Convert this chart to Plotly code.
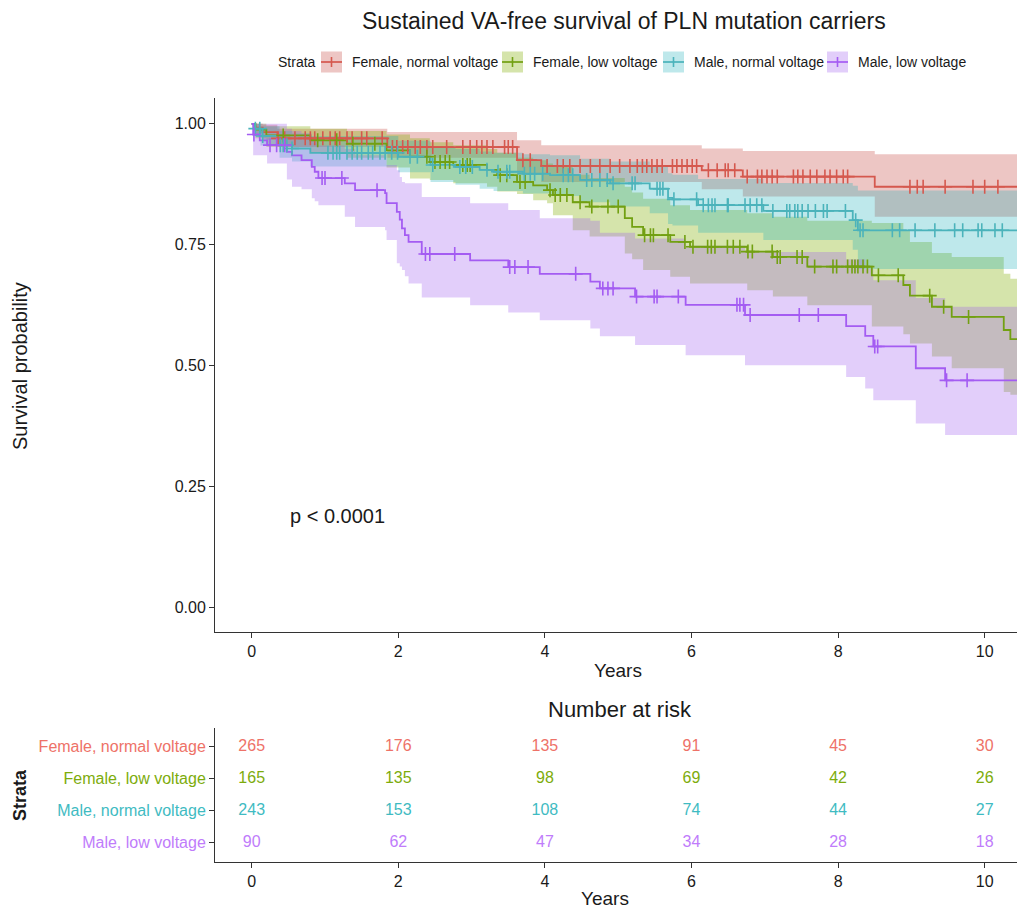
import numpy as np
import plotly.graph_objects as go

# ---------------- data ----------------
groups = ["Female, normal voltage", "Female, low voltage",
          "Male, normal voltage", "Male, low voltage"]

follow_up_end = 10.6

# Female, normal voltage
fnv_time = [0, 0.05, 0.15, 0.35, 1.85, 3.62, 3.95, 6.14, 6.70, 8.50]
fnv_surv = [1.0, 0.992, 0.983, 0.970, 0.952, 0.925, 0.913, 0.904, 0.891, 0.870]
fnv_lower = [1.0, 0.980, 0.967, 0.952, 0.930, 0.895, 0.880, 0.865, 0.850, 0.808]
fnv_upper = [1.0, 1.0, 0.998, 0.990, 0.983, 0.966, 0.956, 0.949, 0.944, 0.937]
fnv_censor = [0.36, 0.45, 0.59, 0.73, 0.80, 0.86, 0.97, 1.07, 1.14, 1.20, 1.30, 1.37, 1.50,
              1.57, 1.78, 1.92, 1.98, 2.06, 2.13, 2.23, 2.30, 2.39, 2.47, 2.66, 2.88, 2.98,
              3.07, 3.14, 3.21, 3.29, 3.45, 3.50, 3.56, 3.70, 3.80, 4.03, 4.17, 4.25, 4.34,
              4.48, 4.62, 4.75, 4.89, 5.02, 5.16, 5.26, 5.33, 5.39, 5.46, 5.53, 5.60, 5.74,
              5.80, 5.87, 5.94, 6.01, 6.07, 6.23, 6.35, 6.46, 6.50, 6.59, 6.76, 6.90, 6.96,
              7.03, 7.10, 7.17, 7.39, 7.45, 7.52, 7.62, 7.71, 7.82, 7.89, 7.98, 8.07, 8.13,
              8.98, 9.08, 9.16, 9.46, 9.84, 10.00, 10.18]

# Female, low voltage
flv_time = [0, 0.05, 0.2, 0.8, 1.3, 1.84, 2.16, 2.43, 2.75, 3.21, 3.35, 3.62, 3.84, 4.03,
            4.11, 4.38, 4.61, 5.09, 5.19, 5.34, 5.71, 5.98, 6.76, 7.11, 7.58, 8.46, 8.89,
            8.98, 9.28, 9.55, 10.26, 10.35]
flv_surv = [1.0, 0.988, 0.976, 0.966, 0.959, 0.945, 0.932, 0.921, 0.915, 0.905, 0.894,
            0.880, 0.873, 0.863, 0.853, 0.838, 0.829, 0.805, 0.787, 0.770, 0.756, 0.746,
            0.736, 0.725, 0.705, 0.687, 0.667, 0.645, 0.622, 0.601, 0.574, 0.555]
flv_lower = [1.0, 0.970, 0.952, 0.940, 0.930, 0.910, 0.887, 0.884, 0.877, 0.870, 0.860,
             0.855, 0.842, 0.836, 0.811, 0.780, 0.767, 0.732, 0.720, 0.698, 0.684, 0.670,
             0.656, 0.643, 0.625, 0.581, 0.565, 0.546, 0.519, 0.495, 0.446, 0.440]
flv_upper = [1.0, 1.0, 0.995, 0.990, 0.985, 0.978, 0.970, 0.962, 0.956, 0.948, 0.940,
             0.930, 0.925, 0.918, 0.912, 0.895, 0.888, 0.870, 0.858, 0.845, 0.832, 0.822,
             0.815, 0.808, 0.800, 0.795, 0.780, 0.756, 0.733, 0.725, 0.690, 0.680]
flv_censor = [0.43, 0.90, 1.16, 1.38, 1.68, 2.39, 2.50, 2.57, 2.64, 2.70, 2.88, 2.94, 2.98,
              3.39, 3.48, 3.66, 3.73, 4.07, 4.14, 4.21, 4.30, 4.48, 4.64, 4.86, 5.00, 5.36,
              5.44, 5.48, 5.68, 5.91, 6.02, 6.22, 6.27, 6.32, 6.49, 6.57, 6.66, 6.77, 6.83,
              7.10, 7.17, 7.21, 7.44, 7.51, 7.68, 7.93, 7.98, 8.13, 8.19, 8.23, 8.27, 8.34,
              8.40, 8.55, 8.82, 9.25, 9.44, 9.78]

# Male, normal voltage
mnv_time = [0, 0.03, 0.12, 0.38, 0.55, 0.80, 2.00, 2.44, 2.78, 3.11, 3.30, 3.70, 4.07,
            4.48, 4.89, 5.43, 5.68, 5.74, 6.09, 6.98, 8.20, 8.27]
mnv_surv = [1.0, 0.990, 0.975, 0.956, 0.949, 0.940, 0.932, 0.915, 0.911, 0.905, 0.901,
            0.897, 0.894, 0.884, 0.877, 0.866, 0.847, 0.844, 0.832, 0.820, 0.801, 0.780]
mnv_lower = [1.0, 0.975, 0.955, 0.930, 0.922, 0.912, 0.900, 0.880, 0.874, 0.866, 0.861,
             0.856, 0.851, 0.838, 0.829, 0.815, 0.793, 0.790, 0.775, 0.760, 0.740, 0.700]
mnv_upper = [1.0, 1.0, 0.995, 0.985, 0.980, 0.975, 0.965, 0.952, 0.948, 0.943, 0.940,
             0.937, 0.935, 0.928, 0.922, 0.913, 0.898, 0.895, 0.886, 0.878, 0.872, 0.862]
mnv_censor = [0.05, 0.11, 0.15, 0.39, 0.43, 0.48, 0.55, 1.04, 1.11, 1.16, 1.20, 1.30, 1.37,
              1.44, 1.50, 1.59, 1.65, 1.75, 1.82, 1.91, 1.99, 2.16, 2.26, 2.47, 2.84, 2.92,
              3.01, 3.21, 3.36, 3.48, 3.52, 3.72, 3.80, 3.86, 3.97, 4.25, 4.32, 4.38, 4.57,
              4.64, 4.75, 4.85, 4.93, 5.19, 5.23, 5.53, 5.57, 5.61, 5.76, 6.07, 6.16, 6.23,
              6.28, 6.32, 6.49, 6.50, 6.73, 6.80, 6.89, 6.96, 7.11, 7.30, 7.34, 7.41, 7.45,
              7.51, 7.59, 7.69, 7.80, 7.85, 8.10, 8.24, 8.30, 8.34, 8.74, 8.84, 9.05, 9.32,
              9.59, 9.70, 9.91, 9.96, 10.14, 10.24]

# Male, low voltage
mlv_time = [0, 0.02, 0.11, 0.21, 0.48, 0.55, 0.68, 0.82, 0.86, 0.91, 1.27, 1.41, 1.82,
            1.84, 1.98, 2.02, 2.05, 2.09, 2.14, 2.32, 2.98, 3.50, 3.93, 4.62, 4.75, 5.23,
            5.92, 6.73, 8.11, 8.37, 8.48, 9.06, 9.46]
mlv_surv = [1.0, 0.978, 0.966, 0.956, 0.942, 0.935, 0.925, 0.911, 0.901, 0.888, 0.877,
            0.863, 0.857, 0.836, 0.818, 0.802, 0.784, 0.770, 0.756, 0.731, 0.718, 0.704,
            0.690, 0.674, 0.660, 0.643, 0.626, 0.605, 0.582, 0.562, 0.540, 0.495, 0.470]
mlv_lower = [1.0, 0.935, 0.935, 0.918, 0.885, 0.870, 0.865, 0.846, 0.840, 0.832, 0.808,
             0.787, 0.780, 0.760, 0.712, 0.705, 0.698, 0.685, 0.670, 0.641, 0.625, 0.610,
             0.594, 0.577, 0.561, 0.543, 0.522, 0.501, 0.477, 0.453, 0.429, 0.381, 0.357]
mlv_upper = [1.0, 1.0, 1.0, 1.0, 0.990, 0.985, 0.980, 0.968, 0.962, 0.955, 0.948, 0.935,
             0.930, 0.915, 0.904, 0.890, 0.880, 0.877, 0.877, 0.849, 0.836, 0.822, 0.805,
             0.800, 0.775, 0.763, 0.748, 0.735, 0.720, 0.700, 0.677, 0.640, 0.622]
mlv_censor = [0.03, 0.25, 0.34, 0.45, 0.96, 1.00, 1.23, 1.71, 2.37, 2.43, 2.77, 3.52, 3.59,
              3.77, 4.42, 4.79, 4.86, 4.93, 5.25, 5.49, 5.53, 5.82, 6.62, 6.66, 6.71, 6.80,
              7.47, 7.73, 8.50, 8.54, 9.48, 9.76]

# Number at risk table
risk_times = [0, 2, 4, 6, 8, 10]
fnv_risk = [265, 176, 135, 91, 45, 30]
flv_risk = [165, 135, 98, 69, 42, 26]
mnv_risk = [243, 153, 108, 74, 44, 27]
mlv_risk = [90, 62, 47, 34, 28, 18]

p_value_text = "p < 0.0001"

# ---------------- styles ----------------
line_colors = ["#D5584E", "#72A012", "#4BB3BB", "#A45CF2"]
text_colors = ["#EE7268", "#7DAC0C", "#3FBBC2", "#C07CFB"]
band_colors = ["rgba(200,78,72,0.32)", "rgba(128,172,0,0.33)",
               "rgba(20,172,182,0.28)", "rgba(158,92,240,0.30)"]
FONT = "Liberation Sans, Arial, sans-serif"
AXIS_COL = "#333333"

series = [
    (fnv_time, fnv_surv, fnv_lower, fnv_upper, fnv_censor, fnv_risk),
    (flv_time, flv_surv, flv_lower, flv_upper, flv_censor, flv_risk),
    (mnv_time, mnv_surv, mnv_lower, mnv_upper, mnv_censor, mnv_risk),
    (mlv_time, mlv_surv, mlv_lower, mlv_upper, mlv_censor, mlv_risk),
]

W, H = 1017, 908
ML = 215


def xp(px):
    return (px - ML) / (W - ML)


def yp(py):
    return 1 - py / H


def step_at(times, values, t):
    idx = np.searchsorted(np.asarray(times), np.asarray(t), side="right") - 1
    return np.asarray(values)[idx]


fig = go.Figure()

# confidence ribbons
for i, (t, s, lo, up, cen, risk) in enumerate(series):
    xs = list(t) + [follow_up_end]
    fig.add_trace(go.Scatter(x=xs, y=list(up) + [up[-1]], mode="lines",
                             line=dict(width=0, shape="hv"), hoverinfo="skip",
                             showlegend=False, xaxis="x", yaxis="y"))
    fig.add_trace(go.Scatter(x=xs, y=list(lo) + [lo[-1]], mode="lines",
                             line=dict(width=0, shape="hv"), fill="tonexty",
                             fillcolor=band_colors[i], hoverinfo="skip",
                             showlegend=False, xaxis="x", yaxis="y"))

# survival step lines
for i, (t, s, lo, up, cen, risk) in enumerate(series):
    xs = list(t) + [follow_up_end]
    fig.add_trace(go.Scatter(x=xs, y=list(s) + [s[-1]], mode="lines",
                             line=dict(color=line_colors[i], width=1.8, shape="hv"),
                             name=groups[i], showlegend=False, xaxis="x", yaxis="y"))

# censor marks
for i, (t, s, lo, up, cen, risk) in enumerate(series):
    fig.add_trace(go.Scatter(x=cen, y=step_at(t, s, cen), mode="markers",
                             marker=dict(symbol="cross-thin", size=10,
                                         line=dict(color=line_colors[i], width=1.6)),
                             showlegend=False, hoverinfo="skip", xaxis="x", yaxis="y"))

# risk table numbers
n_groups = len(groups)
for i, (t, s, lo, up, cen, risk) in enumerate(series):
    fig.add_trace(go.Scatter(x=risk_times, y=[n_groups - i] * len(risk_times),
                             mode="text", text=[str(v) for v in risk],
                             textfont=dict(color=text_colors[i], size=16, family=FONT),
                             showlegend=False, hoverinfo="skip", xaxis="x2", yaxis="y2"))

x_range = [(ML - 251.7) / 73.3, (W - 251.7) / 73.3]

axis_common = dict(showgrid=False, zeroline=False, showline=True, linecolor=AXIS_COL,
                   linewidth=1, ticks="outside", ticklen=5, tickcolor=AXIS_COL,
                   tickwidth=1, tickfont=dict(size=16, color="#1a1a1a", family=FONT))

fig.update_layout(
    width=W, height=H,
    margin=dict(l=ML, r=0, t=0, b=0),
    paper_bgcolor="white", plot_bgcolor="white",
    font=dict(family=FONT, color="#1a1a1a"),
    xaxis=dict(range=x_range, tickvals=risk_times, domain=[0, 1], anchor="y",
               **axis_common),
    yaxis=dict(range=[-0.05, 1.054], tickvals=[0, 0.25, 0.5, 0.75, 1.0],
               ticktext=["0.00", "0.25", "0.50", "0.75", "1.00"],
               domain=[yp(632), yp(97.7)], anchor="x", **axis_common),
    xaxis2=dict(range=x_range, tickvals=risk_times, domain=[0, 1], anchor="y2",
                **axis_common),
    yaxis2=dict(range=[0.4, n_groups + 0.6], tickvals=[n_groups - i for i in range(n_groups)],
                ticktext=[f'<span style="color:{text_colors[i]}">{g}</span>'
                          for i, g in enumerate(groups)],
                domain=[yp(862), yp(727.6)], anchor="x2", **axis_common),
    showlegend=False,
)

ann = []
ann.append(dict(text="Sustained VA-free survival of PLN mutation carriers", x=xp(623.5),
                y=yp(21), xref="paper", yref="paper", showarrow=False,
                font=dict(size=23, family=FONT, color="#1a1a1a"),
                xanchor="center", yanchor="middle"))
ann.append(dict(text="Survival probability", x=xp(20), y=yp(366), xref="paper",
                yref="paper", showarrow=False, textangle=-90,
                font=dict(size=20, family=FONT, color="#1a1a1a"),
                xanchor="center", yanchor="middle"))
ann.append(dict(text="Years", x=xp(618), y=yp(670), xref="paper", yref="paper",
                showarrow=False, font=dict(size=19, family=FONT, color="#1a1a1a"),
                xanchor="center", yanchor="middle"))
ann.append(dict(text="Number at risk", x=xp(620), y=yp(709), xref="paper", yref="paper",
                showarrow=False, font=dict(size=22, family=FONT, color="#1a1a1a"),
                xanchor="center", yanchor="middle"))
ann.append(dict(text="<b>Strata</b>", x=xp(20), y=yp(795), xref="paper", yref="paper",
                showarrow=False, textangle=-90,
                font=dict(size=18, family=FONT, color="#1a1a1a"),
                xanchor="center", yanchor="middle"))
ann.append(dict(text="Years", x=xp(605), y=yp(898), xref="paper", yref="paper",
                showarrow=False, font=dict(size=19, family=FONT, color="#1a1a1a"),
                xanchor="center", yanchor="middle"))
ann.append(dict(text=p_value_text, x=0.5, y=0.19, xref="x", yref="y", showarrow=False,
                font=dict(size=20, family=FONT, color="#1a1a1a"),
                xanchor="left", yanchor="middle"))

# custom legend
legend_cy = 62
key_w = 21
key_left_px = [321, 502, 663, 827]
ann.append(dict(text="Strata", x=xp(276), y=yp(legend_cy), xref="paper", yref="paper",
                showarrow=False, font=dict(size=14, family=FONT, color="#1a1a1a"),
                xanchor="left", yanchor="middle"))
shapes = []
for i, g in enumerate(groups):
    x0 = key_left_px[i]
    shapes.append(dict(type="rect", xref="paper", yref="paper",
                       x0=xp(x0), x1=xp(x0 + key_w),
                       y0=yp(legend_cy + key_w / 2), y1=yp(legend_cy - key_w / 2),
                       fillcolor=band_colors[i], line=dict(width=0)))
    shapes.append(dict(type="line", xref="paper", yref="paper",
                       x0=xp(x0), x1=xp(x0 + key_w), y0=yp(legend_cy), y1=yp(legend_cy),
                       line=dict(color=line_colors[i], width=1.7)))
    shapes.append(dict(type="line", xref="paper", yref="paper",
                       x0=xp(x0 + key_w / 2), x1=xp(x0 + key_w / 2),
                       y0=yp(legend_cy - 5), y1=yp(legend_cy + 5),
                       line=dict(color=line_colors[i], width=1.6)))
    ann.append(dict(text=g, x=xp(x0 + key_w + 8), y=yp(legend_cy), xref="paper",
                    yref="paper", showarrow=False,
                    font=dict(size=14, family=FONT, color="#1a1a1a"),
                    xanchor="left", yanchor="middle"))

fig.update_layout(annotations=ann, shapes=shapes)

fig.write_html("out.html",
               config={"displayModeBar": False},
               post_script="document.body.style.margin='0';"
                           "document.body.style.overflow='hidden';")
